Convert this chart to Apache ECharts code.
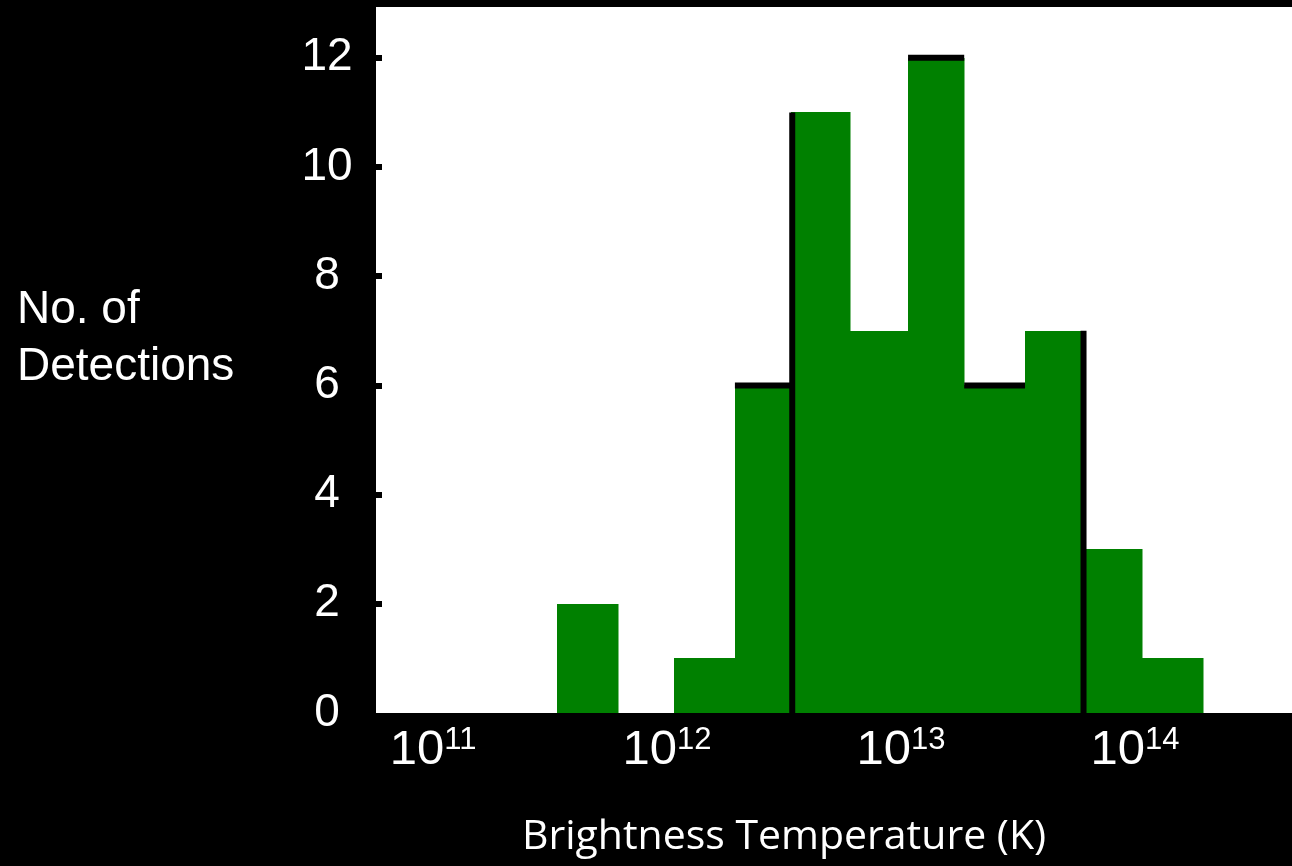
<!DOCTYPE html>
<html>
<head>
<meta charset="utf-8">
<script src="https://cdn.jsdelivr.net/npm/echarts@6/dist/echarts.min.js"></script>
<style>
  html, body { margin: 0; padding: 0; background: #000; }
  #chart { width: 1292px; height: 866px; }
</style>
</head>
<body>
<div id="chart"></div>
<script>
// Histogram bins: log10 of brightness temperature (K)
const binEdges = [11.53, 11.79, 12.03, 12.29, 12.53, 12.78, 13.03, 13.27, 13.53, 13.78, 14.03, 14.29];
const counts   = [2, 0, 1, 6, 11, 7, 12, 6, 7, 3, 1];
// Visible black outline pieces: top edges [from, to, count] and side edges [edge, count]
const outlineTops  = [[12.29, 12.545, 6], [13.03, 13.27, 12], [13.27, 13.53, 6]];
const outlineSides = [[12.535, 11], [13.78, 7]];
const xTickExponents = [11, 12, 13, 14];
const yTicks = [0, 2, 4, 6, 8, 10, 12];
const yTickMarks = [2, 4, 6, 8, 10, 12];
const xTitle = 'Brightness Temperature (K)';
const yTitleLines = ['No. of', 'Detections'];

const barData = counts.map((c, i) => [binEdges[i], binEdges[i + 1], c]);

const chart = echarts.init(document.getElementById('chart'));
chart.setOption({
  backgroundColor: '#000000',
  animation: false,
  grid: {
    left: 376, right: 0, top: 7, bottom: 153,
    show: true, backgroundColor: '#ffffff', borderWidth: 0
  },
  xAxis: {
    type: 'value',
    min: 10.756, max: 14.671,
    axisLine: { show: false },
    axisTick: { show: false },
    splitLine: { show: false },
    axisLabel: {
      customValues: xTickExponents,
      margin: 12,
      verticalAlign: 'top',
      formatter: v => '{b|10}{s|' + Math.round(v) + '}',
      rich: {
        b: { fontSize: 49, lineHeight: 50, color: '#ffffff', fontFamily: 'Liberation Sans, Arial, sans-serif' },
        s: { fontSize: 31, lineHeight: 34, verticalAlign: 'top', color: '#ffffff', fontFamily: 'Liberation Sans, Arial, sans-serif' }
      }
    },
    name: xTitle,
    nameLocation: 'middle',
    nameGap: 104,
    nameTextStyle: {
      color: '#ffffff', fontSize: 41, lineHeight: 41,
      fontFamily: 'Open Sans, sans-serif',
      padding: [0, 100, 0, 0]
    }
  },
  yAxis: {
    type: 'value',
    min: 0, max: 12.93,
    axisLine: { show: false },
    splitLine: { show: false },
    axisTick: {
      show: true, inside: true, length: 6,
      customValues: yTickMarks,
      lineStyle: { color: '#000000', width: 6 }
    },
    axisLabel: {
      customValues: yTicks,
      align: 'center',
      margin: 49,
      color: '#ffffff',
      fontSize: 46,
      fontFamily: 'Liberation Sans, Arial, sans-serif'
    },
    name: '{a|' + yTitleLines[0] + '}\n{a|' + yTitleLines[1] + '}\n{sp| }',
    nameLocation: 'middle',
    nameRotate: 0,
    nameGap: 359,
    nameTextStyle: {
      color: '#ffffff',
      align: 'left', verticalAlign: 'middle',
      rich: {
        a: { color: '#ffffff', fontSize: 46, lineHeight: 57, fontFamily: 'Liberation Sans, Arial, sans-serif' },
        sp: { fontSize: 10, lineHeight: 43 }
      }
    }
  },
  series: [
    {
      type: 'custom',
      name: 'Detections',
      data: barData,
      renderItem: function (params, api) {
        const p0 = api.coord([api.value(0), 0]);
        const p1 = api.coord([api.value(1), api.value(2)]);
        const x0 = Math.round(p0[0]);
        const x1 = Math.round(p1[0]);
        return {
          type: 'rect',
          shape: { x: x0, y: Math.round(p1[1]), width: x1 - x0 + 0.5, height: p0[1] - Math.round(p1[1]) },
          style: { fill: '#008000' }
        };
      },
      z: 2
    },
    {
      type: 'custom',
      name: 'outlineTop',
      data: outlineTops,
      renderItem: function (params, api) {
        const a = api.coord([api.value(0), api.value(2)]);
        const b = api.coord([api.value(1), api.value(2)]);
        return {
          type: 'line',
          shape: { x1: a[0], y1: a[1], x2: b[0], y2: b[1] },
          style: { stroke: '#000000', lineWidth: 6 }
        };
      },
      z: 3
    },
    {
      type: 'custom',
      name: 'outlineSide',
      data: outlineSides,
      renderItem: function (params, api) {
        const a = api.coord([api.value(0), 0]);
        const b = api.coord([api.value(0), api.value(1)]);
        return {
          type: 'line',
          shape: { x1: a[0], y1: a[1], x2: b[0], y2: b[1] },
          style: { stroke: '#000000', lineWidth: 6 }
        };
      },
      z: 3
    }
  ]
});
</script>
</body>
</html>
